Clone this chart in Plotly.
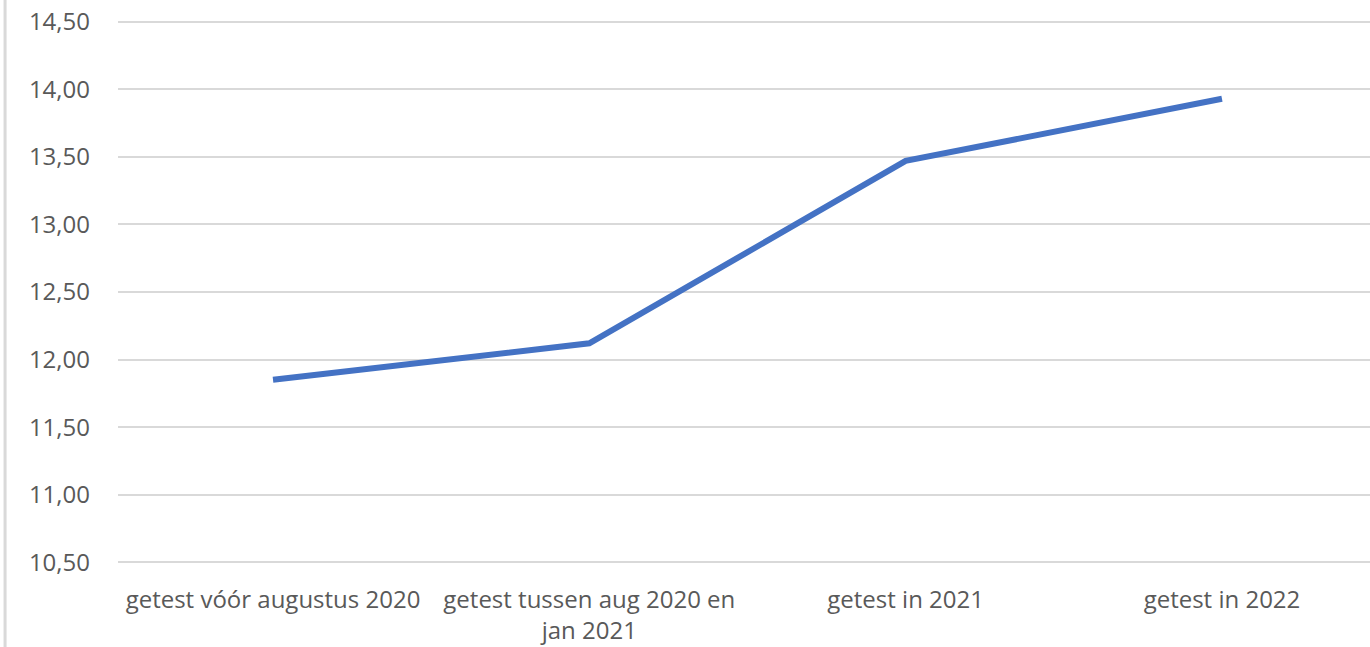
import plotly.graph_objects as go

# gemiddelde per testperiode
categorieen = ["getest vóór augustus 2020", "getest tussen aug 2020 en<br>jan 2021",
               "getest in 2021", "getest in 2022"]
waarden = [11.85, 12.12, 13.47, 13.93]
y_ticks = [10.5, 11.0, 11.5, 12.0, 12.5, 13.0, 13.5, 14.0, 14.5]
y_labels = ["10,50", "11,00", "11,50", "12,00", "12,50", "13,00", "13,50", "14,00", "14,50"]

fig = go.Figure(go.Scatter(x=categorieen, y=waarden, mode="lines",
                           line=dict(color="#4472C4", width=6)))

fig.update_layout(
    width=1370, height=647, plot_bgcolor="white", paper_bgcolor="white",
    margin=dict(l=118, r=0, t=15, b=78),
    font=dict(family="Open Sans", size=24, color="#595959"),
    showlegend=False,
)
fig.update_xaxes(range=[-0.49, 3.468], showgrid=False, showline=False, ticks="",
                 ticklabelstandoff=14)
fig.update_yaxes(range=[10.45, 14.55], tickvals=y_ticks, ticktext=y_labels,
                 gridcolor="#d9d9d9", gridwidth=2, zeroline=False, showline=False,
                 ticklabelstandoff=27)
# linker rand van het kader
fig.add_shape(type="line", xref="paper", yref="paper", x0=-0.0902, x1=-0.0902, y0=-0.2, y1=1.1,
              line=dict(color="#d9d9d9", width=3))

# geen paginamarge rond de figuur
fig.write_html("out.html", config={"displayModeBar": False},
               post_script="document.body.style.margin='0';")
